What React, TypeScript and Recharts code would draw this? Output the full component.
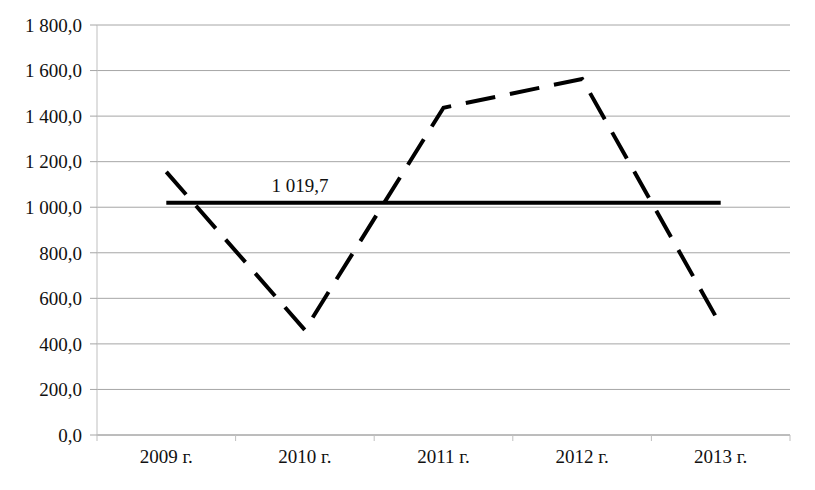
import { LineChart, Line, XAxis, YAxis, CartesianGrid, LabelList } from "recharts";

const years = ["2009 г.", "2010 г.", "2011 г.", "2012 г.", "2013 г."];
const values = [1155, 461, 1437, 1563, 482];
const average = 1019.7;
const yTicks = [0, 200, 400, 600, 800, 1000, 1200, 1400, 1600, 1800];
// band edges around each year, in index units
const bandEdges = [-0.5, 0.5, 1.5, 2.5, 3.5, 4.5];

const data = years.map((year, i) => ({ year, idx: i, value: values[i], avg: average }));

const fmt = (v: number) => {
  const [int, frac] = v.toFixed(1).split(".");
  return int.replace(/\B(?=(\d{3})+(?!\d))/g, "\u00a0") + "," + frac;
};

const serif = "Liberation Serif";
const font = { fontFamily: serif, fontSize: 19, fill: "#111" };

export default function App() {
  return (
    <div
      style={{
        position: "absolute",
        left: 0,
        top: 0,
        width: 815,
        height: 490,
        background: "#fff",
        fontFamily: serif,
      }}
    >
      <LineChart width={815} height={490} data={data} margin={{ top: 25, right: 25, bottom: 0, left: 0 }}>
        <CartesianGrid vertical={false} stroke="#a6a6a6" />
        <XAxis
          xAxisId={0}
          dataKey="idx"
          type="number"
          domain={[-0.5, 4.5]}
          allowDataOverflow
          ticks={bandEdges}
          tickFormatter={() => ""}
          tickSize={6}
          height={1}
          stroke="#a6a6a6"
          tickLine={{ stroke: "#bfbfbf" }}
        />
        <XAxis
          xAxisId="cat"
          dataKey="year"
          scale="band"
          height={54}
          axisLine={false}
          tickLine={false}
          tickSize={6}
          tickMargin={8}
          tick={font}
        />
        <YAxis
          domain={[0, 1800]}
          ticks={yTicks}
          width={97}
          tickFormatter={fmt}
          tick={font}
          tickSize={7}
          tickMargin={8}
          stroke="#bfbfbf"
          tickLine={{ stroke: "#a6a6a6" }}
          interval={0}
        />
        <Line
          xAxisId="cat"
          dataKey="value"
          stroke="#000"
          strokeWidth={4}
          strokeDasharray="30 15"
          dot={false}
          isAnimationActive={false}
        />
        <Line xAxisId="cat" dataKey="avg" stroke="#000" strokeWidth={4} dot={false} isAnimationActive={false}>
          <LabelList
            dataKey="avg"
            content={(p: any) =>
              p.index === 1 ? (
                <text x={p.x - 5} y={p.y - 11} textAnchor="middle" {...font}>
                  {fmt(average)}
                </text>
              ) : null
            }
          />
        </Line>
      </LineChart>
    </div>
  );
}
